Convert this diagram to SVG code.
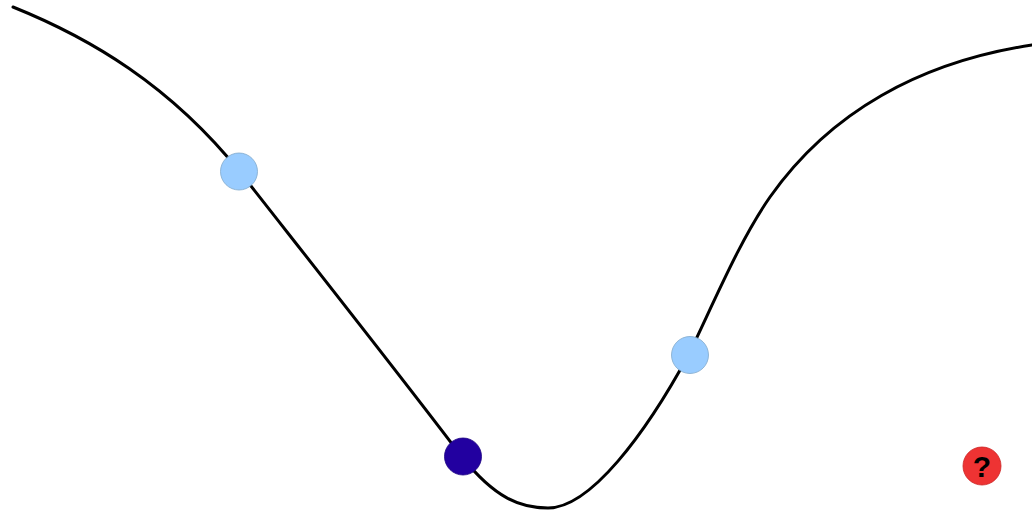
<svg xmlns="http://www.w3.org/2000/svg" width="1032" height="513" viewBox="0 0 1032 513">
<style>
.track{fill:none;stroke:#000;stroke-width:3;stroke-linecap:round}
.light{fill:#99ccff;stroke:#7fa8cc;stroke-width:0.8}
.dark{fill:#2200a0;stroke:#1a0080;stroke-width:0.8}
.red{fill:#ee3333;stroke:#cc2222;stroke-width:0.8}
.q{font-family:"Liberation Sans",Arial,sans-serif;font-size:30px;font-weight:bold;fill:#000;text-anchor:middle}
</style>
<rect width="1032" height="513" fill="#fff"/>
<g id="connectors">
<path class="track" d="M13,7 C90,38 170,85 240,172 C305,255 400,375 462,457 C495,498 520,508 548,508 C590,508 645,435 689,354 C715,300 740,240 770,197 C830,112 920,62 1032,45"/>
</g>
<g id="ball-left"><circle class="light" cx="239" cy="171.5" r="18.5"/></g>
<g id="ball-dark"><circle class="dark" cx="463" cy="456.5" r="18.5"/></g>
<g id="ball-right"><circle class="light" cx="690" cy="355" r="18.5"/></g>
<g id="help"><circle class="red" cx="982" cy="466" r="19"/><text class="q" x="982" y="477">?</text></g>
</svg>
